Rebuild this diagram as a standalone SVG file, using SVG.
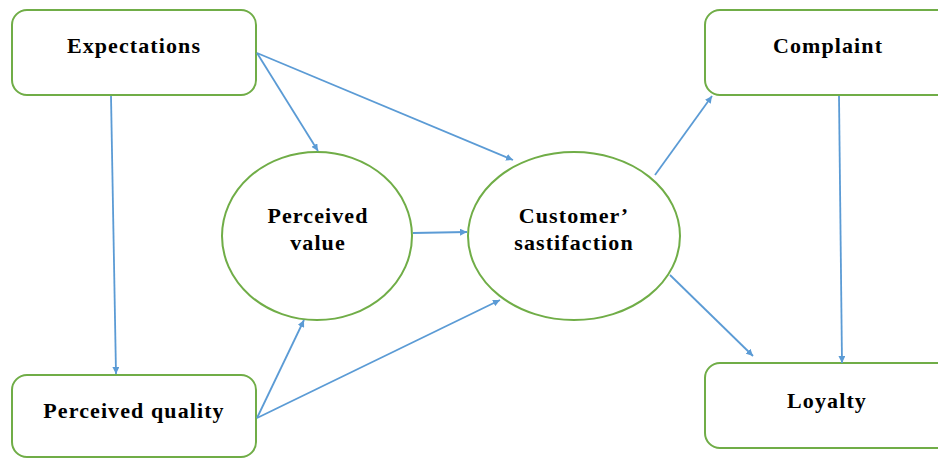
<svg xmlns="http://www.w3.org/2000/svg" width="938" height="458" viewBox="0 0 938 458">
<style>
.box{fill:#fff;stroke:#70AD47;stroke-width:2}
.lbl{font-family:"Liberation Serif","Times New Roman",serif;font-weight:bold;font-size:22px;letter-spacing:1.1px;fill:#000;text-anchor:middle}
.con{stroke:#5B9BD5;stroke-width:1.8;fill:none;marker-end:url(#ah)}
</style>
<defs>
<marker id="ah" viewBox="0 0 10 10" refX="10" refY="5" markerWidth="7" markerHeight="7" markerUnits="userSpaceOnUse" orient="auto">
<path d="M0,0 L10,5 L0,10 z" fill="#5B9BD5"/>
</marker>
</defs>
<rect width="938" height="458" fill="#fff"/>
<g id="expectations"><rect class="box" x="12" y="10" width="244" height="85" rx="15"/><text class="lbl" x="134" y="53">Expectations</text></g>
<g id="perceived-quality"><rect class="box" x="12" y="375" width="244" height="82" rx="15"/><text class="lbl" x="134" y="418">Perceived quality</text></g>
<g id="complaint"><rect class="box" x="705" y="10" width="250" height="85" rx="15"/><text class="lbl" x="828" y="53">Complaint</text></g>
<g id="loyalty"><rect class="box" x="705" y="363" width="250" height="85" rx="15"/><text class="lbl" x="827" y="408">Loyalty</text></g>
<g id="perceived-value"><ellipse class="box" cx="317" cy="236" rx="95" ry="84"/><text class="lbl" x="318" y="223">Perceived</text><text class="lbl" x="318" y="250">value</text></g>
<g id="customer-satisfaction"><ellipse class="box" cx="574" cy="236" rx="106" ry="84"/><text class="lbl" x="574" y="223">Customer’</text><text class="lbl" x="574" y="250">sastifaction</text></g>
<g id="connectors">
<line class="con" x1="111" y1="96" x2="116" y2="374"/>
<line class="con" x1="257" y1="53" x2="318" y2="151"/>
<line class="con" x1="257" y1="53" x2="513" y2="160"/>
<line class="con" x1="413" y1="233" x2="467" y2="232"/>
<line class="con" x1="257" y1="418" x2="304" y2="320"/>
<line class="con" x1="257" y1="418" x2="500" y2="300"/>
<line class="con" x1="655" y1="175" x2="712" y2="96"/>
<line class="con" x1="670" y1="275" x2="753" y2="356"/>
<line class="con" x1="839" y1="96" x2="842" y2="363"/>
</g>
</svg>
